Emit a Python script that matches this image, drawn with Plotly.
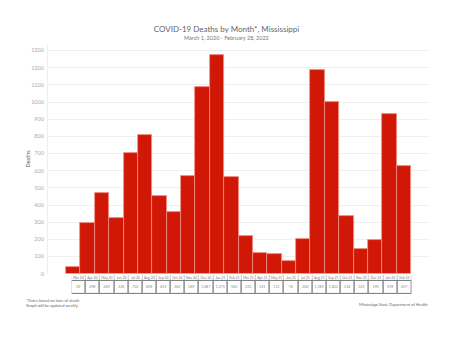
import plotly.graph_objects as go

months = ["Mar 20", "Apr 20", "May 20", "Jun 20", "Jul 20", "Aug 20", "Sep 20", "Oct 20",
          "Nov 20", "Dec 20", "Jan 21", "Feb 21", "Mar 21", "Apr 21", "May 21", "Jun 21",
          "Jul 21", "Aug 21", "Sep 21", "Oct 21", "Nov 21", "Dec 21", "Jan 22", "Feb 22"]
deaths = [39, 298, 469, 326, 702, 809, 453, 362, 569, 1087, 1275, 565,
          222, 121, 113, 76, 200, 1185, 1002, 334, 143, 195, 929, 627]
y_ticks = list(range(0, 1301, 100))

FONT = "Lato"
idx = list(range(len(months)))
value_text = [f"{v:,}" for v in deaths]

fig = go.Figure()

# main bars
fig.add_trace(go.Bar(
    x=idx, y=deaths, xaxis="x", yaxis="y",
    marker=dict(color="#D11807", line=dict(color="#EE9088", width=0.8)),
    width=1, hoverinfo="skip", showlegend=False,
))

# table: header row (months)
fig.add_trace(go.Bar(
    x=idx, y=[0.32] * len(idx), base=[0.68] * len(idx), xaxis="x2", yaxis="y2",
    marker=dict(color="white", line=dict(color="#BBBBBB", width=0.6)),
    width=1, text=months, textposition="inside", insidetextanchor="middle",
    constraintext="none", textangle=0,
    textfont=dict(family=FONT, size=3.4, color="#777777"),
    hoverinfo="skip", showlegend=False,
))
# table: value row
fig.add_trace(go.Bar(
    x=idx, y=[0.68] * len(idx), base=[0] * len(idx), xaxis="x2", yaxis="y2",
    marker=dict(color="white", line=dict(color="#777777", width=1)),
    width=1, text=value_text, textposition="inside", insidetextanchor="middle",
    constraintext="none", textangle=0,
    textfont=dict(family=FONT, size=3.6, color="#888888"),
    hoverinfo="skip", showlegend=False,
))

fig.update_layout(
    width=453, height=349,
    margin=dict(l=48, r=23, t=44, b=54),
    paper_bgcolor="white", plot_bgcolor="white",
    barmode="overlay", bargap=0,
    font=dict(family=FONT, color="#888888"),
    title=dict(
        text="COVID-19 Deaths by Month*, Mississippi",
        x=0.5, xanchor="center", y=1 - 29.5 / 349, yanchor="middle",
        font=dict(family=FONT, size=8, color="#666666"),
    ),
    xaxis=dict(domain=[0, 1], range=[-1.752, 24.82], showgrid=False, zeroline=False,
               showticklabels=False, showline=False, anchor="y", fixedrange=True),
    yaxis=dict(domain=[0.085, 1], range=[0, 1338], tickvals=y_ticks,
               gridcolor="#F0F0F0", gridwidth=1, zeroline=False,
               showline=True, linecolor="#EEEEEE", linewidth=1,
               tickfont=dict(family=FONT, size=5.5, color="#AAAAAA"),
               ticks="", ticklabelstandoff=2,
               title=dict(text="Deaths", standoff=0,
                          font=dict(family=FONT, size=5.5, color="#555555")),
               anchor="x"),
    xaxis2=dict(domain=[0.062, 0.952], range=[-0.5, 23.5], visible=False, anchor="y2"),
    yaxis2=dict(domain=[0.004, 0.08], range=[0, 1], visible=False, anchor="x2"),
    annotations=[
        dict(text="March 1, 2020 - February 28, 2022",
             xref="paper", yref="paper", x=(226.5 - 48) / 382, y=(295 - 38) / 251,
             xanchor="center", yanchor="middle", showarrow=False,
             font=dict(family=FONT, size=5.5, color="#777777")),
        dict(text="*Dates based on date of death<br>Graph will be updated weekly.",
             xref="paper", yref="paper", x=-0.063, y=-0.004, xanchor="left", yanchor="top",
             showarrow=False, align="left",
             font=dict(family=FONT, size=4, color="#666666")),
        dict(text="Mississippi State Department of Health",
             xref="paper", yref="paper", x=1.0, y=-0.018, xanchor="right", yanchor="top",
             showarrow=False, align="right",
             font=dict(family=FONT, size=4, color="#666666")),
    ],
)

fig.write_html("out.html")
